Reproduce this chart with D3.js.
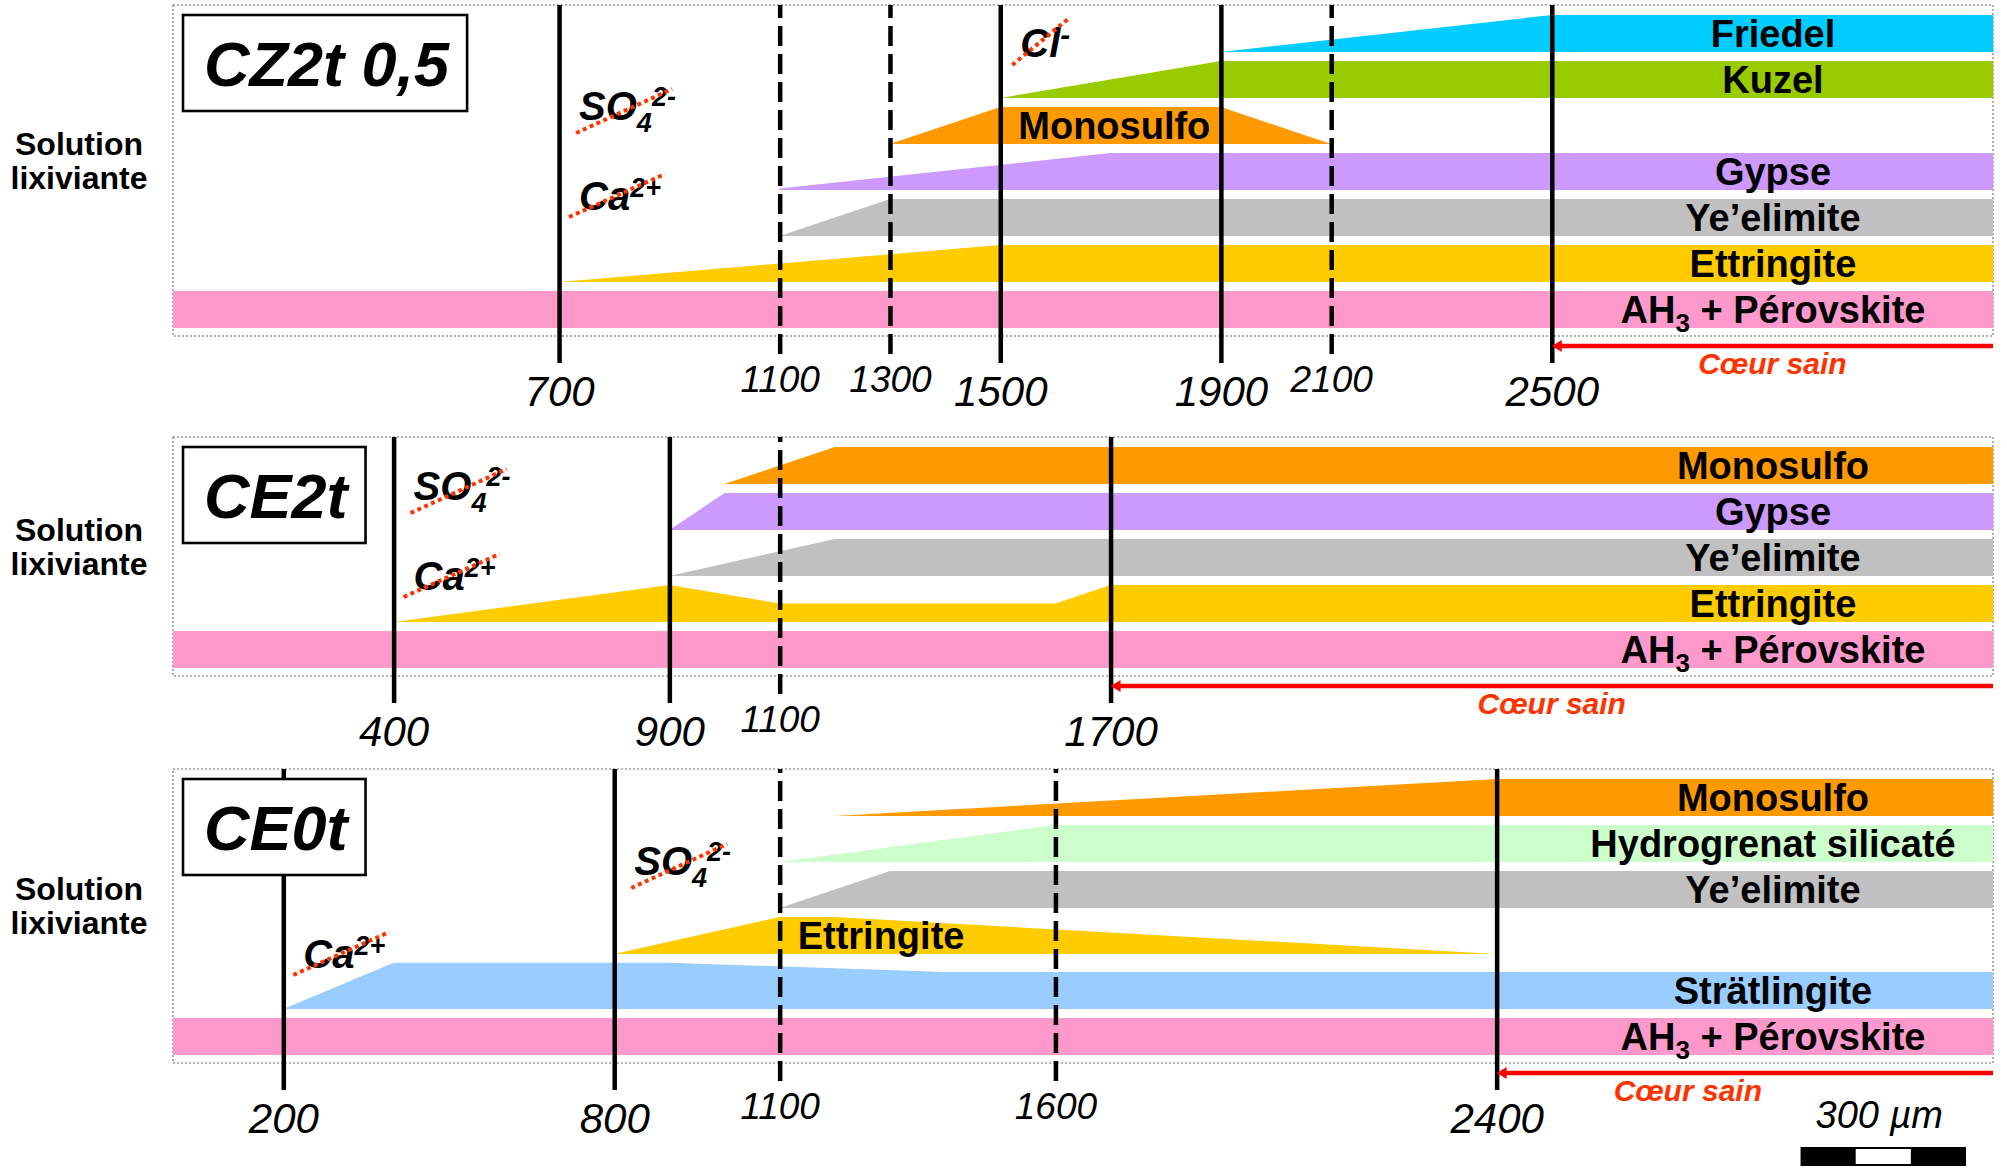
<!DOCTYPE html>
<html><head><meta charset="utf-8">
<script src="https://cdn.jsdelivr.net/npm/d3@7"></script>
<style>
body{margin:0;background:#fff}
svg{display:block}
text{font-family:"Liberation Sans",Arial,sans-serif}
</style></head><body>
<svg id="c" width="2007" height="1168"></svg>
<script>
// ================= DATA =================
const panelNames = ["CZ2t 0,5", "CE2t", "CE0t"];

// phases (top to bottom) for each panel
const phasesP1 = ["Friedel", "Kuzel", "Monosulfo", "Gypse", "Ye’elimite", "Ettringite", "AH3 + Pérovskite"];
const phasesP2 = ["Monosulfo", "Gypse", "Ye’elimite", "Ettringite", "AH3 + Pérovskite"];
const phasesP3 = ["Monosulfo", "Hydrogrenat silicaté", "Ye’elimite", "Ettringite", "Strätlingite", "AH3 + Pérovskite"];

// relative abundance profiles: [depth µm, relative amount]
const profilesP1 = [
  [[1900, 0], [2500, 1], [3300, 1]],
  [[1500, 0], [1900, 1], [3300, 1]],
  [[1300, 0], [1500, 1], [1900, 1], [2100, 0]],
  [[1100, 0.04], [1700, 1], [3300, 1]],
  [[1100, 0], [1300, 1], [3300, 1]],
  [[700, 0], [1500, 1], [3300, 1]],
  [[0, 1], [3300, 1]]
];
const profilesP2 = [
  [[1000, 0], [1200, 1], [3300, 1]],
  [[900, 0], [1000, 1], [3300, 1]],
  [[900, 0], [1200, 1], [3300, 1]],
  [[400, 0], [900, 1], [1100, 0.5], [1600, 0.5], [1700, 1], [3300, 1]],
  [[0, 1], [3300, 1]]
];
const profilesP3 = [
  [[1200, 0], [2400, 1], [3300, 1]],
  [[1100, 0], [1600, 1], [3300, 1]],
  [[1100, 0], [1300, 1], [3300, 1]],
  [[800, 0], [1100, 1], [1200, 1], [2400, 0]],
  [[200, 0], [400, 1.25], [900, 1.25], [1400, 1], [3300, 1]],
  [[0, 1], [3300, 1]]
];

// zone boundaries (µm)
const solidP1 = [700, 1500, 1900, 2500];
const dashedP1 = [1100, 1300, 2100];
const solidP2 = [400, 900, 1700];
const dashedP2 = [1100];
const solidP3 = [200, 800, 2400];
const dashedP3 = [1100, 1600];

// healthy core boundary (µm)
const coreDepths = [2500, 1700, 2400];

// dissolved ions: [ion, boundary µm]
const ionsP1 = [["SO4", 700], ["Ca", 700], ["Cl", 1500]];
const ionsP2 = [["SO4", 400], ["Ca", 400]];
const ionsP3 = [["SO4", 800], ["Ca", 200]];

const scaleBarLength = 300; // µm

// ================= STYLE / LAYOUT =================
const colors = {
  "Friedel": "#00CCFF", "Kuzel": "#99CC00", "Monosulfo": "#FF9900", "Gypse": "#CC99FF",
  "Ye’elimite": "#C0C0C0", "Ettringite": "#FFCC00", "AH3 + Pérovskite": "#FF99CC",
  "Hydrogrenat silicaté": "#CCFFCC", "Strätlingite": "#99CCFF"
};
const panels = [
  {name: panelNames[0], phases: phasesP1, prof: profilesP1, solid: solidP1, dashed: dashedP1, core: coreDepths[0], ions: ionsP1, top: 5, gap: null,
   ionDy: {SO4: 115, Ca: 205, Cl: 52}},
  {name: panelNames[1], phases: phasesP2, prof: profilesP2, solid: solidP2, dashed: dashedP2, core: coreDepths[1], ions: ionsP2, top: 437, gap: null,
   ionDy: {SO4: 63, Ca: 153}},
  {name: panelNames[2], phases: phasesP3, prof: profilesP3, solid: solidP3, dashed: dashedP3, core: coreDepths[2], ions: ionsP3, top: 769, gap: {after: 3, size: 9},
   ionDy: {SO4: 106, Ca: 199}, scaleBar: true}
];

const X0 = 173, X1 = 1993;
const BAND_H = 37, PITCH = 46;
const LABEL_X = 1773;
const FONT = '"Liberation Sans",Arial,sans-serif';

const x = d3.scaleLinear().domain([0, 3300]).range([X0, X1]);
const th = d3.scaleLinear().domain([0, 1]).range([0, BAND_H]);

const svg = d3.select("#c");

panels.forEach((p, pi) => {
  const g = svg.append("g");
  const n = p.phases.length;
  const rowTop = j => p.top + 10 + j * PITCH + (p.gap && j > p.gap.after ? p.gap.size : 0);
  const bottom = rowTop(n - 1) + BAND_H + 8;

  // dotted frame
  g.append("rect").attr("x", X0).attr("y", p.top).attr("width", X1 - X0).attr("height", bottom - p.top)
    .attr("fill", "none").attr("stroke", "#9a9a9a").attr("stroke-width", 1.6).attr("stroke-dasharray", "2,2");

  // bands
  p.phases.forEach((ph, j) => {
    const base = rowTop(j) + BAND_H;
    const area = d3.area().x(d => x(d[0])).y0(base).y1(d => base - th(d[1]));
    g.append("path").attr("d", area(p.prof[j])).attr("fill", colors[ph]);
  });

  // "Solution lixiviante"
  const mid = (p.top + bottom) / 2;
  const sl = g.append("text").attr("text-anchor", "middle").attr("font-weight", "bold").attr("font-size", 32).attr("fill", "#000");
  sl.append("tspan").attr("x", 79).attr("y", mid - 16).text("Solution");
  sl.append("tspan").attr("x", 79).attr("y", mid + 18).text("lixiviante");

  // boundaries with labels (axes)
  const solidY = bottom + 27;
  const ga = g.append("g").attr("transform", `translate(0,${solidY})`)
    .call(d3.axisBottom(x).tickValues(p.solid).tickSizeInner(-(solidY - p.top)).tickSizeOuter(0).tickPadding(13).tickFormat(d3.format("d")));
  ga.select(".domain").remove();
  ga.selectAll("line").attr("stroke", "#000").attr("stroke-width", 4.5);
  ga.selectAll("text").attr("font-family", FONT).attr("font-size", 42).attr("font-style", "italic").attr("fill", "#000");

  const dashY = bottom + 18;
  const gd = g.append("g").attr("transform", `translate(0,${dashY})`)
    .call(d3.axisBottom(x).tickValues(p.dashed).tickSizeInner(-(dashY - p.top)).tickSizeOuter(0).tickPadding(12).tickFormat(d3.format("d")));
  gd.select(".domain").remove();
  gd.selectAll("line").attr("stroke", "#000").attr("stroke-width", 4.5).attr("stroke-dasharray", "20,8");
  gd.selectAll("text").attr("font-family", FONT).attr("font-size", 37).attr("font-style", "italic").attr("fill", "#000");

  // band labels
  p.phases.forEach((ph, j) => {
    const base = rowTop(j) + BAND_H;
    const prof = p.prof[j];
    const reachesEnd = prof[prof.length - 1][1] > 0;
    const t = g.append("text").attr("font-weight", "bold").attr("font-size", 38).attr("fill", "#000")
      .attr("y", base - 5);
    if (reachesEnd) {
      t.attr("x", LABEL_X).attr("text-anchor", "middle");
    } else {
      const full = prof.find(d => d[1] >= 1);
      t.attr("x", x(full[0]) + 18).attr("text-anchor", "start");
    }
    if (ph.startsWith("AH3")) {
      t.append("tspan").text("AH");
      t.append("tspan").attr("font-size", 26).attr("dy", 9).text("3");
      t.append("tspan").attr("dy", -9).text(" + Pérovskite");
    } else {
      t.text(ph);
    }
  });

  // sample name box
  const bx = 183, by = p.top + 10;
  const bt = g.append("text").attr("font-weight", "bold").attr("font-style", "italic").attr("font-size", 63)
    .attr("x", bx + 21).attr("y", by + 71).attr("fill", "#000").text(p.name);
  const bw = bt.node().getComputedTextLength() + 39;
  g.insert("rect", () => bt.node()).attr("x", bx).attr("y", by).attr("width", bw).attr("height", 96)
    .attr("fill", "#fff").attr("stroke", "#000").attr("stroke-width", 2.6);

  // ions (dissolved, struck through)
  p.ions.forEach(([ion, at]) => {
    const ix = x(at) + 20, iy = p.top + p.ionDy[ion];
    const t = g.append("text").attr("x", ix).attr("y", iy).attr("font-weight", "bold").attr("font-style", "italic")
      .attr("font-size", 40).attr("fill", "#000");
    let strike;
    if (ion === "SO4") {
      t.append("tspan").text("SO");
      t.append("tspan").attr("font-size", 27).attr("dy", 12).text("4");
      t.append("tspan").attr("font-size", 27).attr("dy", -26).text("2-");
      strike = [-3, 13, 93, -31];
    } else if (ion === "Ca") {
      t.append("tspan").text("Ca");
      t.append("tspan").attr("font-size", 27).attr("dy", -13).text("2+");
      strike = [-10, 7, 86, -36];
    } else {
      t.append("tspan").text("Cl");
      t.append("tspan").attr("font-size", 30).attr("dy", -12).text("-");
      strike = [-8, 8, 49, -39];
    }
    g.append("line").attr("x1", ix + strike[0]).attr("y1", iy + strike[1]).attr("x2", ix + strike[2]).attr("y2", iy + strike[3])
      .attr("stroke", "#FF3300").attr("stroke-width", 4).attr("stroke-dasharray", "4,3.5");
  });

  // healthy core arrow
  const ay = bottom + 10, xc = x(p.core);
  g.append("line").attr("x1", X1).attr("x2", xc + 6).attr("y1", ay).attr("y2", ay)
    .attr("stroke", "#FF0000").attr("stroke-width", 4.5);
  g.append("path").attr("d", `M${xc},${ay}L${xc + 10},${ay - 6}L${xc + 10},${ay + 6}Z`).attr("fill", "#FF0000");
  const cx = (xc + X1) / 2 - (p.scaleBar ? 57 : 0);
  g.append("text").attr("x", cx).attr("y", bottom + 38).attr("text-anchor", "middle").attr("font-weight", "bold")
    .attr("font-style", "italic").attr("font-size", 30).attr("fill", "#FF3300").text("Cœur sain");

  // scale bar
  if (p.scaleBar) {
    const len = x(scaleBarLength) - x(0);
    const right = X1 - 27, left = right - len;
    const seg = d3.scaleLinear().domain([0, scaleBarLength]).range([left, right]);
    g.append("text").attr("x", (left + right) / 2 - 4).attr("y", bottom + 65).attr("text-anchor", "middle")
      .attr("font-style", "italic").attr("font-size", 38).attr("fill", "#000").text(scaleBarLength + " µm");
    g.append("rect").attr("x", left).attr("y", bottom + 84).attr("width", len).attr("height", 19).attr("fill", "#000");
    g.append("rect").attr("x", seg(scaleBarLength / 3)).attr("y", bottom + 86).attr("width", seg(2 * scaleBarLength / 3) - seg(scaleBarLength / 3))
      .attr("height", 15).attr("fill", "#fff");
  }
});
</script>
</body></html>
